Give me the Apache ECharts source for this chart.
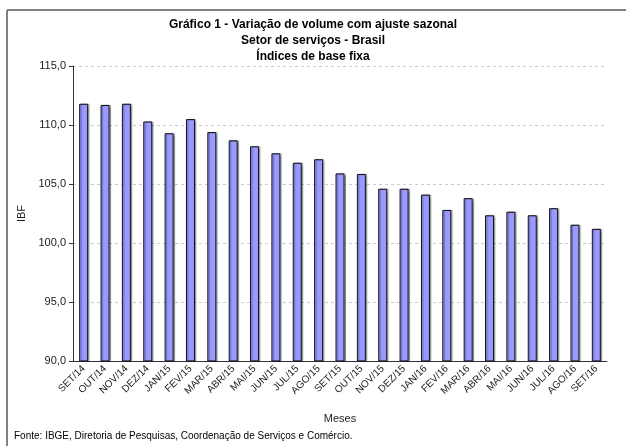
<!DOCTYPE html>
<html>
<head>
<meta charset="utf-8">
<style>
  html, body { margin: 0; padding: 0; background: #fff; }
  #chart { width: 626px; height: 446px; }
</style>
<script src="https://cdn.jsdelivr.net/npm/echarts@6/dist/echarts.min.js"></script>
</head>
<body>
<div id="chart"></div>
<script>
// meses (eixo x)
const months = ['SET/14', 'OUT/14', 'NOV/14', 'DEZ/14', 'JAN/15', 'FEV/15', 'MAR/15', 'ABR/15',
  'MAI/15', 'JUN/15', 'JUL/15', 'AGO/15', 'SET/15', 'OUT/15', 'NOV/15', 'DEZ/15', 'JAN/16',
  'FEV/16', 'MAR/16', 'ABR/16', 'MAI/16', 'JUN/16', 'JUL/16', 'AGO/16', 'SET/16'];
// índice de base fixa (IBF)
const ibf = [111.8, 111.7, 111.8, 110.3, 109.3, 110.5, 109.4, 108.7, 108.2, 107.6, 106.8, 107.1,
  105.9, 105.85, 104.6, 104.6, 104.1, 102.8, 103.8, 102.35, 102.65, 102.35, 102.95, 101.55, 101.2];
const yTicks = [90, 95, 100, 105, 110, 115];

const titleLines = [
  'Gráfico 1 - Variação de volume com ajuste sazonal',
  'Setor de serviços - Brasil',
  'Índices de base fixa'
];
const source = 'Fonte: IBGE, Diretoria de Pesquisas, Coordenação de Serviços e Comércio.';

const chart = echarts.init(document.getElementById('chart'));
const font = '"Liberation Sans", Arial, sans-serif';

chart.setOption({
  animation: false,
  textStyle: { fontFamily: font },
  title: {
    text: titleLines.join('\n'),
    left: 'center',
    top: 12,
    textStyle: { fontSize: 12, fontWeight: 'bold', color: '#000', lineHeight: 16, fontFamily: font }
  },
  grid: { left: 73, right: 19, top: 66, bottom: 85 },
  xAxis: {
    type: 'category',
    data: months,
    name: 'Meses',
    nameLocation: 'middle',
    nameGap: 52,
    nameTextStyle: { fontSize: 11, color: '#222' },
    axisLine: { lineStyle: { color: '#333', width: 1 } },
    axisTick: { length: 4, lineStyle: { color: '#333' } },
    axisLabel: { rotate: 45, fontSize: 10, color: '#222', margin: 6, interval: 0 }
  },
  yAxis: {
    type: 'value',
    min: yTicks[0],
    max: yTicks[yTicks.length - 1],
    interval: 5,
    name: 'IBF',
    nameLocation: 'middle',
    nameGap: 40,
    nameTextStyle: { fontSize: 11, color: '#222' },
    axisLine: { show: true, lineStyle: { color: '#333', width: 1 } },
    axisTick: { show: true, length: 4, lineStyle: { color: '#333' } },
    axisLabel: {
      fontSize: 11, color: '#222', margin: 7,
      formatter: v => v.toFixed(1).replace('.', ',')
    },
    splitLine: { lineStyle: { color: '#cccccc', type: [3, 3] } }
  },
  series: [{
    type: 'bar',
    data: ibf,
    barWidth: 9,
    itemStyle: {
      color: '#9999ff',
      borderColor: '#111',
      borderWidth: 1,
      shadowColor: 'rgba(0,0,0,0.3)',
      shadowOffsetX: 1.5,
      shadowOffsetY: 0,
      shadowBlur: 1
    }
  }],
  graphic: [
    { type: 'line', shape: { x1: 7, y1: 10, x2: 626, y2: 10 }, style: { stroke: '#808080', lineWidth: 2 } },
    { type: 'line', shape: { x1: 7, y1: 10, x2: 7, y2: 446 }, style: { stroke: '#808080', lineWidth: 2 } },
    {
      type: 'text', left: 14, top: 431,
      style: { text: source, font: '10px ' + font, fill: '#000' }
    }
  ]
});
</script>
</body>
</html>
